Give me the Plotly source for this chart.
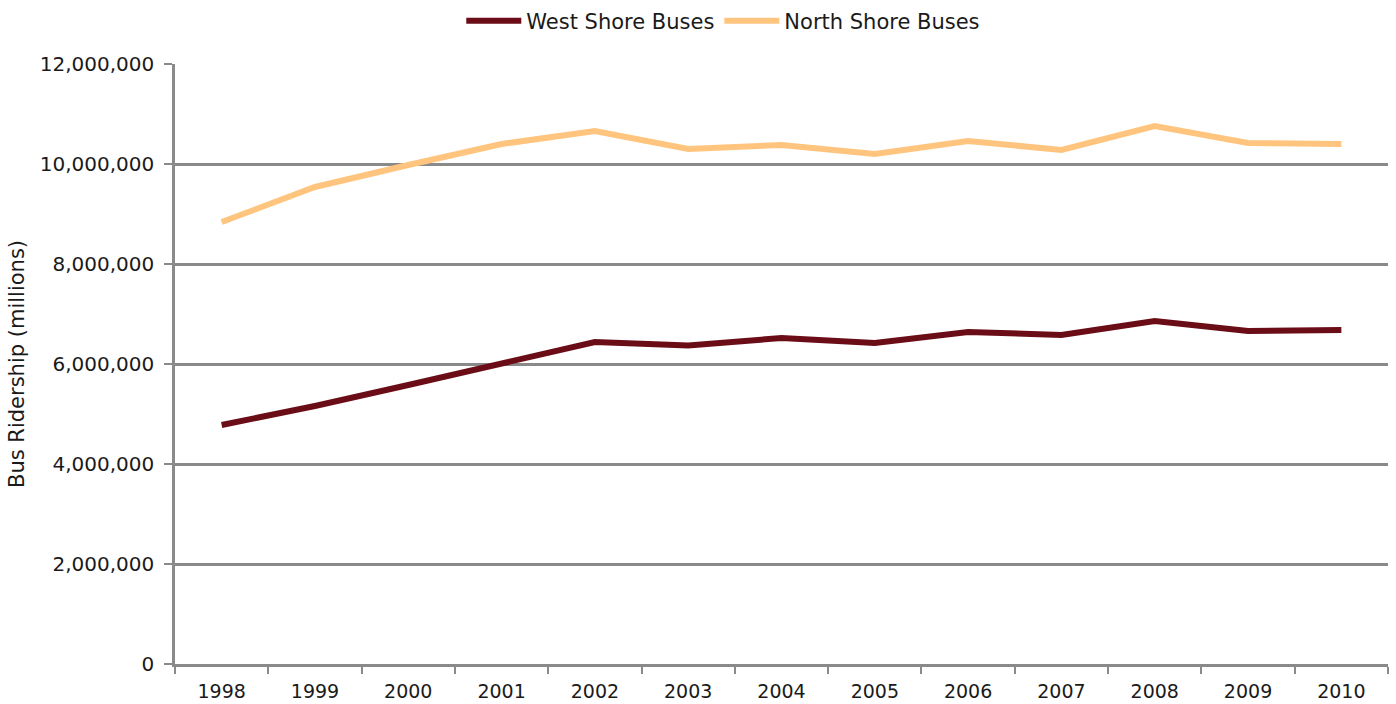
import plotly.graph_objects as go

years = ["1998", "1999", "2000", "2001", "2002", "2003", "2004", "2005", "2006", "2007", "2008", "2009", "2010"]
west_shore = [4780000, 5160000, 5580000, 6000000, 6440000, 6370000, 6520000, 6420000, 6640000, 6580000, 6860000, 6660000, 6680000]
north_shore = [8840000, 9540000, 9980000, 10400000, 10660000, 10300000, 10380000, 10200000, 10460000, 10280000, 10760000, 10420000, 10400000]
y_ticks = [0, 2000000, 4000000, 6000000, 8000000, 10000000, 12000000]
y_tick_labels = ["0", "2,000,000", "4,000,000", "6,000,000", "8,000,000", "10,000,000", "12,000,000"]

FONT = "DejaVu Sans"
GRID = "#8a8a8a"

fig = go.Figure()
fig.add_trace(go.Scatter(x=years, y=west_shore, mode="lines", name="West Shore Buses",
                         line=dict(color="#6B0D17", width=6)))
fig.add_trace(go.Scatter(x=years, y=north_shore, mode="lines", name="North Shore Buses",
                         line=dict(color="#FFC57F", width=6)))

fig.update_layout(
    width=1396, height=704,
    margin=dict(l=175, r=8, t=64, b=40, autoexpand=False),
    paper_bgcolor="white", plot_bgcolor="white",
    font=dict(family=FONT, size=19, color="#1a1a1a"),
    showlegend=True,
    legend=dict(orientation="h", x=0.452, xanchor="center", y=0.97, yanchor="middle",
                yref="container", font=dict(size=21, family=FONT), itemwidth=55,
                bgcolor="rgba(0,0,0,0)", tracegroupgap=0),
    xaxis=dict(type="category", range=[-0.5, 12.5], tickson="boundaries",
               ticks="outside", ticklen=7, tickwidth=2, tickcolor=GRID,
               showline=True, linecolor=GRID, linewidth=2.5, showgrid=False,
               automargin=False,
               tickfont=dict(size=19, family=FONT), ticklabelstandoff=8),
    yaxis=dict(range=[0, 12000000], tickvals=y_ticks, ticktext=y_tick_labels,
               ticks="outside", ticklen=8, tickwidth=2, tickcolor=GRID,
               showline=True, linecolor=GRID, linewidth=2.5,
               showgrid=True, gridcolor=GRID, gridwidth=2.5, zeroline=False,
               automargin=False,
               tickfont=dict(size=20, family=FONT), ticklabelstandoff=6,
               title=dict(text="Bus Ridership (millions)", font=dict(size=21, family=FONT), standoff=10)),
)

fig.write_html("out.html", config={"displayModeBar": False},
               post_script="document.body.style.margin='0px';")
